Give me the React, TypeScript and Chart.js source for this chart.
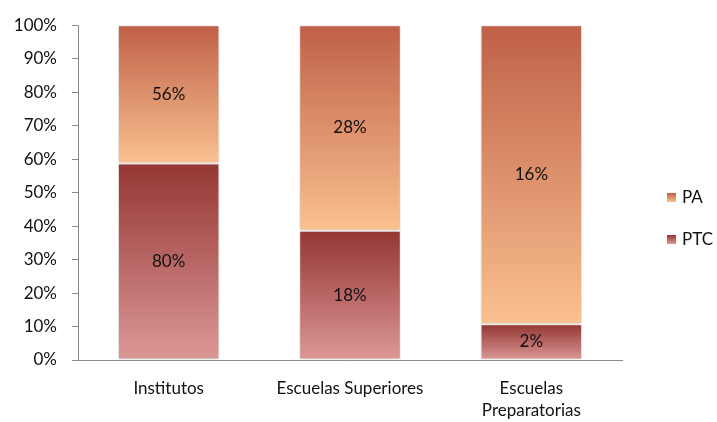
import React, { useEffect, useRef } from "react";
import { Chart, registerables } from "chart.js";

Chart.register(...registerables);

const categories: (string | string[])[] = ["Institutos", "Escuelas Superiores", ["Escuelas", "Preparatorias"]];
const ptcLabels = [80, 18, 2];
const paLabels = [56, 28, 16];
const ptcShare = [58.7, 38.6, 10.7];
const paShare = [41.3, 61.4, 89.3];
const yTicks = [0, 10, 20, 30, 40, 50, 60, 70, 80, 90, 100];

const FONT = "Lato, 'Open Sans', sans-serif";
const FS = 17;

const palette = {
  PTC: { top: "rgb(148,54,52)", bottom: "rgb(220,152,150)" },
  PA: { top: "rgb(191,96,71)", bottom: "rgb(250,193,144)" },
};

function gradientFor(ctx: any, key: "PTC" | "PA") {
  const chart = ctx.chart;
  const y = chart.scales && chart.scales.y;
  if (!y || !chart.chartArea || ctx.dataIndex === undefined) return palette[key].top;
  const i = ctx.dataIndex;
  const lo = key === "PTC" ? 0 : ptcShare[i];
  const hi = key === "PTC" ? ptcShare[i] : ptcShare[i] + paShare[i];
  const y0 = y.getPixelForValue(hi);
  const y1 = y.getPixelForValue(lo);
  if (!isFinite(y0) || !isFinite(y1) || y0 === y1) return palette[key].top;
  const g = chart.ctx.createLinearGradient(0, y0, 0, y1);
  g.addColorStop(0, palette[key].top);
  g.addColorStop(1, palette[key].bottom);
  return g;
}

const shadowPlugin = {
  id: "shadow",
  beforeDatasetsDraw(chart: any) {
    const c = chart.ctx;
    c.save();
    c.shadowColor = "rgba(0,0,0,0.22)";
    c.shadowBlur = 4;
    c.shadowOffsetX = 0;
    c.shadowOffsetY = 0;
  },
  afterDatasetsDraw(chart: any) {
    chart.ctx.restore();
  },
};

const labelPlugin = {
  id: "valueLabels",
  afterDatasetsDraw(chart: any) {
    const c = chart.ctx;
    c.save();
    c.font = `${FS}px ${FONT}`;
    c.fillStyle = "#111";
    c.textAlign = "center";
    c.textBaseline = "middle";
    chart.data.datasets.forEach((ds: any, di: number) => {
      const meta = chart.getDatasetMeta(di);
      const labels = ds.label === "PTC" ? ptcLabels : paLabels;
      meta.data.forEach((bar: any, i: number) => {
        const yc = (bar.y + bar.base) / 2;
        c.fillText(labels[i] + "%", bar.x, yc);
      });
    });
    c.restore();
  },
};

const legendPlugin = {
  id: "customLegend",
  afterDraw(chart: any) {
    const c = chart.ctx;
    const area = chart.chartArea;
    const x = area.right + 45;
    const items: { label: string; key: "PA" | "PTC"; y: number }[] = [
      { label: "PA", key: "PA", y: 198 },
      { label: "PTC", key: "PTC", y: 240 },
    ];
    c.save();
    c.font = `${FS}px ${FONT}`;
    c.textBaseline = "middle";
    c.textAlign = "left";
    items.forEach((it) => {
      const g = c.createLinearGradient(0, it.y - 5, 0, it.y + 4);
      g.addColorStop(0, palette[it.key].top);
      g.addColorStop(1, palette[it.key].bottom);
      c.fillStyle = g;
      c.fillRect(x, it.y - 5, 9, 9);
      c.fillStyle = "#111";
      c.fillText(it.label, x + 15, it.y);
    });
    c.restore();
  },
};

export default function App() {
  const ref = useRef<HTMLCanvasElement | null>(null);
  useEffect(() => {
    if (!ref.current) return;
    const chart = new Chart(ref.current, {
      type: "bar",
      data: {
        labels: categories,
        datasets: [
          {
            label: "PTC",
            data: ptcShare,
            backgroundColor: (ctx: any) => gradientFor(ctx, "PTC"),
            borderColor: "#ffffff",
            borderWidth: 1,
            borderSkipped: false,
            barPercentage: 0.56,
            categoryPercentage: 1,
          },
          {
            label: "PA",
            data: paShare,
            backgroundColor: (ctx: any) => gradientFor(ctx, "PA"),
            borderColor: "#ffffff",
            borderWidth: 1,
            borderSkipped: false,
            barPercentage: 0.56,
            categoryPercentage: 1,
          },
        ],
      },
      options: {
        animation: false,
        responsive: false,
        maintainAspectRatio: false,
        layout: { padding: { left: 0, right: 95, top: 24, bottom: 0 } },
        plugins: {
          legend: { display: false },
          tooltip: { enabled: false },
        },
        scales: {
          x: {
            stacked: true,
            grid: { display: false, drawTicks: false },
            border: { display: true, color: "#8a8a8a", width: 1 },
            ticks: {
              color: "#111",
              font: { size: FS, family: FONT, lineHeight: 1.3 },
              padding: 17,
              maxRotation: 0,
              autoSkip: false,
            },
            afterFit(scale: any) {
              scale.height = 62;
            },
          },
          y: {
            stacked: true,
            min: 0,
            max: 100,
            afterBuildTicks(scale: any) {
              scale.ticks = yTicks.map((v) => ({ value: v }));
            },
            grid: {
              display: true,
              drawOnChartArea: false,
              drawTicks: true,
              tickLength: 6,
              color: "#8a8a8a",
            },
            border: { display: true, color: "#8a8a8a", width: 1 },
            ticks: {
              color: "#111",
              font: { size: FS, family: FONT },
              padding: 15,
              callback: (v: any) => v + "%",
            },
            afterFit(scale: any) {
              scale.width = 78;
            },
          },
        },
      },
      plugins: [shadowPlugin, labelPlugin, legendPlugin],
    } as any);
    return () => chart.destroy();
  }, []);
  return (
    <div style={{ position: "fixed", left: 0, top: 0, width: 717, height: 422, background: "#fff" }}>
      <canvas ref={ref} width={717} height={422} style={{ width: 717, height: 422 }} />
    </div>
  );
}
